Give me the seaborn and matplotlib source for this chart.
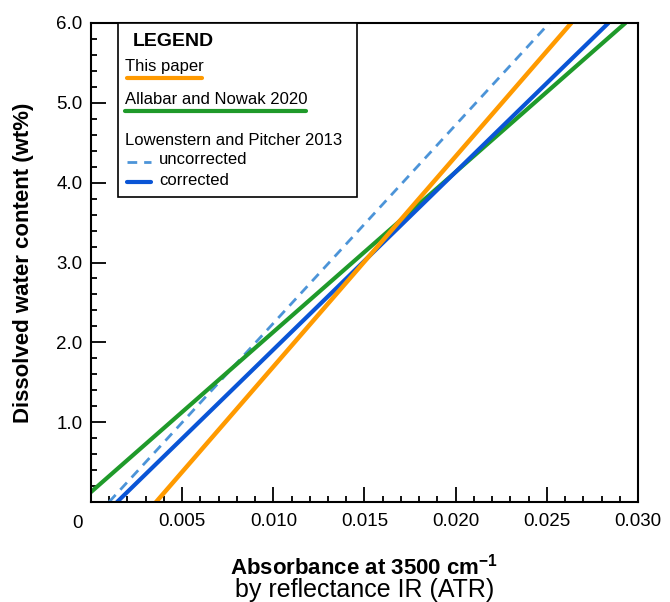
import matplotlib
matplotlib.use('Agg')
import matplotlib.pyplot as plt
import seaborn as sns
from matplotlib.ticker import MultipleLocator, FixedLocator
from matplotlib.patches import Rectangle
from matplotlib.lines import Line2D

this_paper_abs = [0.00357, 0.02634]
this_paper_h2o = [0.0, 6.0]
allabar_abs = [0.0, 0.02931]
allabar_h2o = [0.125, 6.0]
lp_uncorr_abs = [0.00099, 0.02514]
lp_uncorr_h2o = [0.0, 6.0]
lp_corr_abs = [0.00143, 0.02838]
lp_corr_h2o = [0.0, 6.0]

x_ticks = [0.005, 0.010, 0.015, 0.020, 0.025, 0.030]
x_tick_labels = ['0.005', '0.010', '0.015', '0.020', '0.025', '0.030']
y_ticks = [1.0, 2.0, 3.0, 4.0, 5.0, 6.0]
y_tick_labels = ['1.0', '2.0', '3.0', '4.0', '5.0', '6.0']

orange = '#ff9a00'
green = '#1f9a2a'
blue = '#0a55d6'
light_blue = '#4c94d8'

sns.set_style('ticks')
plt.rcParams['font.family'] = ['Liberation Sans', 'DejaVu Sans']
plt.rcParams['mathtext.fontset'] = 'custom'
plt.rcParams['mathtext.rm'] = 'Liberation Sans'
plt.rcParams['mathtext.bf'] = 'Liberation Sans:bold'
plt.rcParams['text.color'] = 'black'
plt.rcParams['axes.labelcolor'] = 'black'
plt.rcParams['xtick.color'] = 'black'
plt.rcParams['ytick.color'] = 'black'

fig = plt.figure(figsize=(6.7, 6.02), dpi=100)
ax = fig.add_axes([0.1358, 0.1661, 0.8164, 0.7957])

sns.lineplot(x=lp_uncorr_abs, y=lp_uncorr_h2o, ax=ax, color=light_blue,
             lw=2, linestyle=(0, (3.5, 2.5)))
sns.lineplot(x=allabar_abs, y=allabar_h2o, ax=ax, color=green, lw=3)
sns.lineplot(x=lp_corr_abs, y=lp_corr_h2o, ax=ax, color=blue, lw=3)
sns.lineplot(x=this_paper_abs, y=this_paper_h2o, ax=ax, color=orange, lw=3.2)

ax.set_xlim(0, 0.030)
ax.set_ylim(0, 6.0)
ax.xaxis.set_major_locator(FixedLocator(x_ticks))
ax.set_xticklabels(x_tick_labels)
ax.xaxis.set_minor_locator(MultipleLocator(0.001))
ax.yaxis.set_major_locator(FixedLocator(y_ticks))
ax.set_yticklabels(y_tick_labels)
ax.yaxis.set_minor_locator(MultipleLocator(0.2))
ax.tick_params(which='both', direction='in', top=False, right=False,
               color='black', labelcolor='black', width=1.3)
ax.tick_params(which='major', length=11, labelsize=13.5, pad=8)
ax.tick_params(axis='y', which='major', pad=6)
ax.tick_params(which='minor', length=4)
for sp in ax.spines.values():
    sp.set_visible(True)
    sp.set_linewidth(1.5)
    sp.set_color('black')

# origin label
ax.text(-0.024, -0.027, '0', transform=ax.transAxes, ha='center', va='top',
        fontsize=13.5)

ax.set_ylabel('Dissolved water content (wt%)', fontsize=16,
              fontweight='bold', labelpad=16)
ax.set_xlabel(r'Absorbance at 3500 cm$^{\mathbf{-1}}$', fontsize=16,
              fontweight='bold', labelpad=17)
ax.text(0.5, -0.198, 'by reflectance IR (ATR)', transform=ax.transAxes,
        ha='center', va='baseline', fontsize=18)

# hand drawn legend box
tr = ax.transAxes
ax.add_patch(Rectangle((0.049, 0.637), 0.437, 0.363, transform=tr,
                       fill=True, facecolor='white', edgecolor='black',
                       lw=1.2, zorder=5))
ax.text(0.077, 0.962, 'LEGEND', transform=tr, fontsize=14,
        fontweight='bold', va='center', zorder=6)
ax.text(0.062, 0.910, 'This paper', transform=tr, fontsize=12,
        va='center', zorder=6)
ax.add_line(Line2D([0.066, 0.203], [0.885, 0.885], transform=tr,
                   color=orange, lw=3, zorder=6))
ax.text(0.062, 0.840, 'Allabar and Nowak 2020', transform=tr, fontsize=12,
        va='center', zorder=6)
ax.add_line(Line2D([0.062, 0.393], [0.816, 0.816], transform=tr,
                   color=green, lw=3, zorder=6))
ax.text(0.062, 0.755, 'Lowenstern and Pitcher 2013', transform=tr,
        fontsize=12, va='center', zorder=6)
ax.add_line(Line2D([0.066, 0.110], [0.710, 0.710], transform=tr,
                   color=light_blue, lw=2, linestyle=(0, (3.5, 2.5)),
                   zorder=6))
ax.text(0.124, 0.714, 'uncorrected', transform=tr, fontsize=12,
        va='center', zorder=6)
ax.add_line(Line2D([0.066, 0.110], [0.668, 0.668], transform=tr,
                   color=blue, lw=3, zorder=6))
ax.text(0.124, 0.672, 'corrected', transform=tr, fontsize=12,
        va='center', zorder=6)

fig.savefig('out.png', dpi=100)
